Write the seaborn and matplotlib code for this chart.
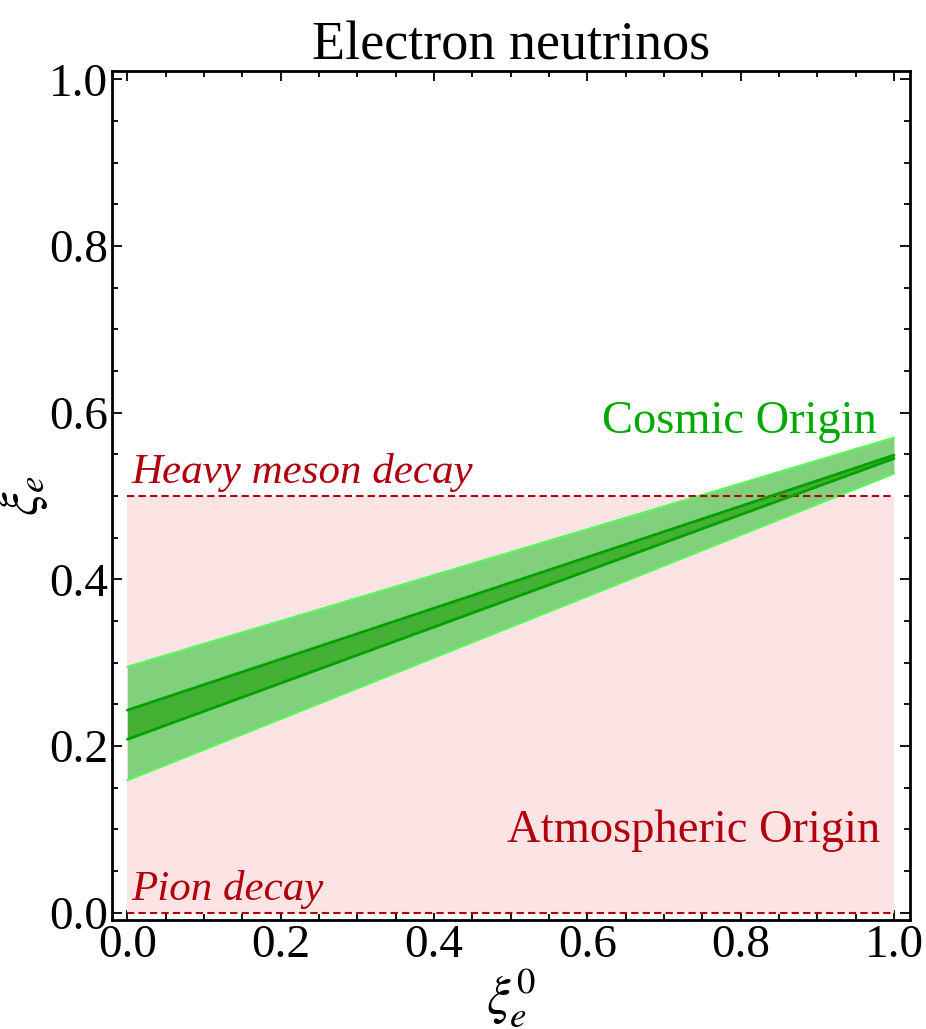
import matplotlib
matplotlib.use("Agg")
import matplotlib.pyplot as plt
import seaborn as sns
import pandas as pd
import numpy as np
from matplotlib.ticker import MultipleLocator

# ---- data ----
xi0 = [0.0, 1.0]
outer_lo = [0.159, 0.527]
outer_hi = [0.295, 0.570]
inner_lo = [0.208, 0.545]
inner_hi = [0.243, 0.549]
atm_x = [0.0, 1.0]
heavy_meson = [0.5, 0.5]
pion = [0.0, 0.0]
xticks = [0.0, 0.2, 0.4, 0.6, 0.8, 1.0]
yticks = [0.0, 0.2, 0.4, 0.6, 0.8, 1.0]

sns.set_theme(style="ticks")
plt.rcParams['font.family'] = ['Liberation Serif', 'DejaVu Serif']
plt.rcParams['mathtext.fontset'] = 'stix'
plt.rcParams['text.color'] = 'black'
plt.rcParams['axes.labelcolor'] = 'black'

fig = plt.figure(figsize=(9.26, 10.29), dpi=100)
ax = fig.add_axes([0.121, 0.1059, 0.8617, 0.8251])

dark_red = "#b00010"
green_txt = "#00a800"

# atmospheric region
ax.fill_between(atm_x, pion, heavy_meson, color="#fde4e4", lw=0, zorder=1)
df_lines = pd.DataFrame({"x": atm_x * 2, "y": heavy_meson + pion,
                         "which": ["heavy"] * 2 + ["pion"] * 2})
sns.lineplot(data=df_lines, x="x", y="y", units="which", estimator=None,
             color=dark_red, lw=1.5, ls=(0, (3.5, 2)), ax=ax, zorder=4)

# cosmic bands
ax.fill_between(xi0, outer_lo, outer_hi, color="#80d07c", lw=0, zorder=2)
ax.fill_between(xi0, inner_lo, inner_hi, color="#44b034", lw=0, zorder=3)
df_b = pd.DataFrame({"x": xi0 * 4,
                     "y": outer_lo + outer_hi + inner_lo + inner_hi,
                     "edge": ["olo"] * 2 + ["ohi"] * 2 + ["ilo"] * 2 + ["ihi"] * 2,
                     "kind": ["outer"] * 4 + ["inner"] * 4})
sns.lineplot(data=df_b[df_b.kind == "outer"], x="x", y="y", units="edge",
             estimator=None, color="#5cf55c", lw=1.6, ax=ax, zorder=3)
sns.lineplot(data=df_b[df_b.kind == "inner"], x="x", y="y", units="edge",
             estimator=None, color="#00a000", lw=2.0, ax=ax, zorder=4)

ax.set_xlim(-0.02, 1.0209)
ax.set_ylim(-0.0088, 1.01)
ax.xaxis.set_major_locator(MultipleLocator(0.2))
ax.xaxis.set_minor_locator(MultipleLocator(0.05))
ax.yaxis.set_major_locator(MultipleLocator(0.2))
ax.yaxis.set_minor_locator(MultipleLocator(0.05))
ax.set_xticks(xticks)
ax.set_yticks(yticks)
ax.set_xticklabels([f"{v:.1f}" for v in xticks])
ax.set_yticklabels([f"{v:.1f}" for v in yticks])
ax.tick_params(which="both", direction="in", top=True, right=True,
               labelsize=34, colors="black", width=1.3, pad=3)
ax.tick_params(which="major", length=7)
ax.tick_params(which="minor", length=4)
for s in ax.spines.values():
    s.set_linewidth(2.0)
    s.set_color("black")

ax.set_xlabel(r"$\xi_e^0$", fontsize=38, labelpad=0, color="black")
ax.set_ylabel(r"$\xi_e$", fontsize=38, labelpad=0, color="black")
ax.yaxis.set_label_coords(-0.078, 0.5)
ax.set_title("Electron neutrinos", fontsize=39, pad=8, color="black")

ax.text(0.005, 0.516, "Heavy meson decay", color=dark_red, fontsize=31,
        style="italic", ha="left", va="baseline", zorder=5)
ax.text(0.005, 0.015, "Pion decay", color=dark_red, fontsize=31,
        style="italic", ha="left", va="baseline", zorder=5)
ax.text(0.982, 0.085, "Atmospheric Origin", color=dark_red, fontsize=33.5,
        ha="right", va="baseline", zorder=5)
ax.text(0.978, 0.576, "Cosmic Origin", color=green_txt, fontsize=33.5,
        ha="right", va="baseline", zorder=5)

fig.savefig("out.png", dpi=100, facecolor="white")
